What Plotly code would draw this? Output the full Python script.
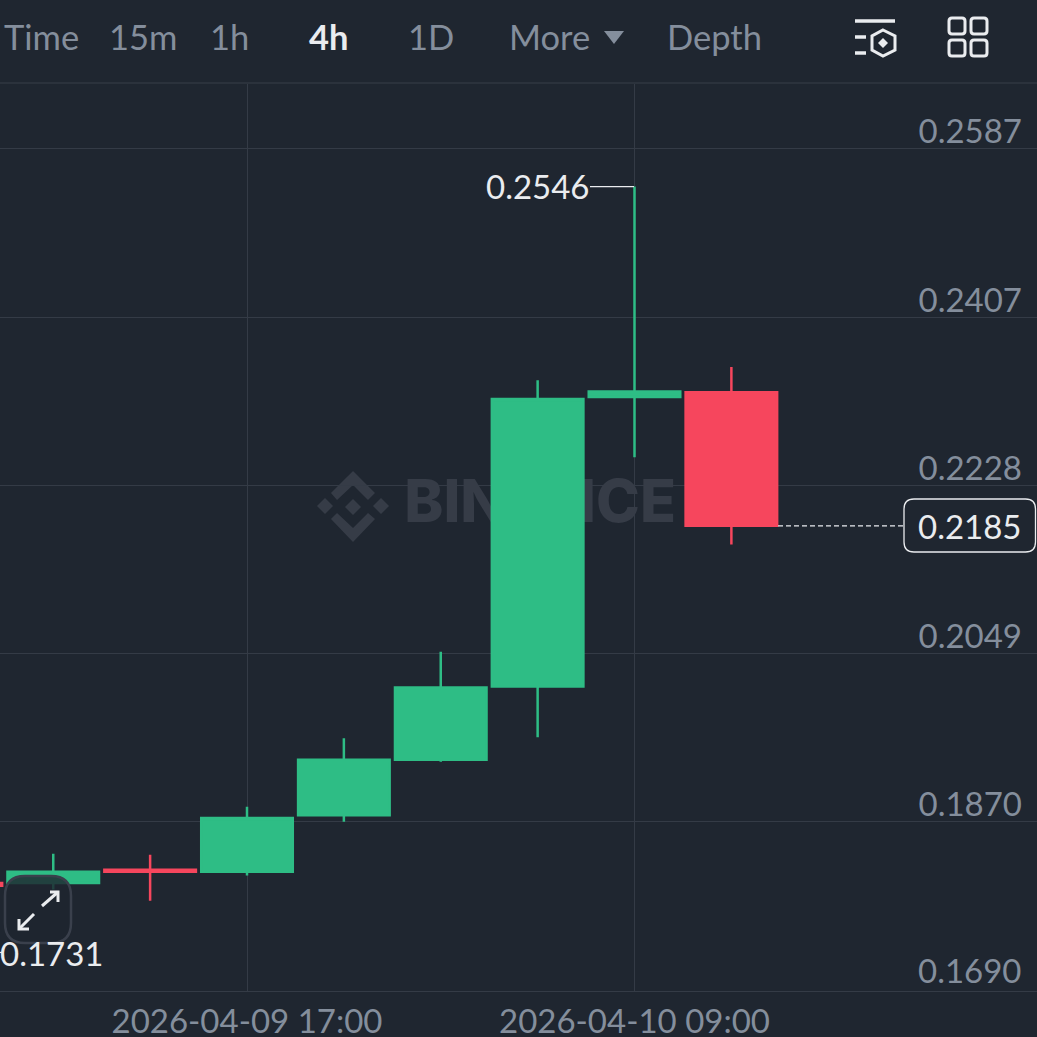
import plotly.graph_objects as go

times = ["2026-04-09 05:00", "2026-04-09 09:00", "2026-04-09 13:00", "2026-04-09 17:00", "2026-04-09 21:00",
         "2026-04-10 01:00", "2026-04-10 05:00", "2026-04-10 09:00", "2026-04-10 13:00"]
opens = [0.1805, 0.1805, 0.1819, 0.1817, 0.1877, 0.1936, 0.2014, 0.2322, 0.2327]
highs = [0.1825, 0.1836, 0.1835, 0.1886, 0.1959, 0.2051, 0.2340, 0.2546, 0.2354]
lows = [0.1731, 0.1798, 0.1786, 0.1813, 0.1870, 0.1934, 0.1960, 0.2258, 0.2165]
closes = [0.1802, 0.1817, 0.1817, 0.1874, 0.1936, 0.2013, 0.2320, 0.2328, 0.2185]
y_ticks = [0.2587, 0.2407, 0.2228, 0.2049, 0.1870]
y_tick_labels = ["0.2587", "0.2407", "0.2228", "0.2049", "0.1870"]
y_bottom_label = "0.1690"
x_ticks = ["2026-04-09 17:00", "2026-04-10 09:00"]
toolbar = ["Time", "15m", "1h", "4h", "1D", "More", "Depth"]

W, H = 1037, 1037
T, B = 84, 991
BG = "#1F2630"
GRID = "#343B46"
GREY = "#848E9C"
WHITE = "#EAECEF"
GREEN = "#2EBD85"
RED = "#F6465D"
FONT = "Lato"
y_min, y_max = 0.1690, 0.1690 + (B - T) / 9398


def px(x):
    return x / W


def py(y):
    return (B - y) / (B - T)


def poly(points, close=True):
    d = "M" + " L".join(f"{px(x):.5f},{py(y):.5f}" for x, y in points)
    return d + (" Z" if close else "")


def rrect(x0, y0, x1, y1, r):
    parts = [
        f"M{px(x0 + r):.5f},{py(y0):.5f}", f"L{px(x1 - r):.5f},{py(y0):.5f}",
        f"Q{px(x1):.5f},{py(y0):.5f} {px(x1):.5f},{py(y0 + r):.5f}",
        f"L{px(x1):.5f},{py(y1 - r):.5f}",
        f"Q{px(x1):.5f},{py(y1):.5f} {px(x1 - r):.5f},{py(y1):.5f}",
        f"L{px(x0 + r):.5f},{py(y1):.5f}",
        f"Q{px(x0):.5f},{py(y1):.5f} {px(x0):.5f},{py(y1 - r):.5f}",
        f"L{px(x0):.5f},{py(y0 + r):.5f}",
        f"Q{px(x0):.5f},{py(y0):.5f} {px(x0 + r):.5f},{py(y0):.5f}", "Z",
    ]
    return " ".join(parts)


def shape(path, fill=None, color=None, width=0, layer="above"):
    return dict(type="path", path=path, xref="paper", yref="paper", layer=layer,
                fillcolor=fill or "rgba(0,0,0,0)",
                line=dict(color=color or "rgba(0,0,0,0)", width=width))


shapes = []
# header divider
shapes.append(shape(poly([(0, 83), (W, 83)], False), color="#2B323C", width=2))
# watermark logo
LOGO = "#363C47"
for cx, cy in [(353, 507), (325, 506), (381, 506)]:
    shapes.append(shape(poly([(cx, cy - 8), (cx + 8, cy), (cx, cy + 8), (cx - 8, cy)]), fill=LOGO, layer="below"))
shapes.append(shape(poly([(353, 471), (375, 493), (368, 500), (353, 485), (337, 500), (331, 493)]), fill=LOGO, layer="below"))
shapes.append(shape(poly([(353, 542), (375, 519), (368, 513), (353, 528), (337, 513), (331, 519)]), fill=LOGO, layer="below"))
# More triangle
shapes.append(shape(poly([(604, 31), (624, 31), (614, 44)]), fill=GREY))
# toolbar icons
for a in [[(855, 21), (895, 21)], [(855, 37), (866, 37)], [(855, 53), (866, 53)]]:
    shapes.append(shape(poly(a, False), color=WHITE, width=3.5))
shapes.append(shape(poly([(883, 30), (895, 36), (895, 50), (883, 56), (872, 50), (872, 36)]), color=WHITE, width=3))
shapes.append(shape(poly([(883, 38), (888, 43), (883, 48), (878, 43)]), fill=WHITE))
for x0, x1 in [(949, 965), (971, 987)]:
    for y0, y1 in [(18, 34), (40, 56)]:
        shapes.append(shape(rrect(x0, y0, x1, y1, 3), color=WHITE, width=3))
# expand button
shapes.append(shape(rrect(5, 876, 71, 943, 20), fill="rgba(31,38,48,0.82)", color="#3A404C", width=2.5))
for a in [[(42, 906), (58, 892)], [(50, 892), (58, 892), (58, 902)],
          [(34, 914), (19, 929)], [(19, 919), (19, 929), (29, 929)]]:
    shapes.append(shape(poly(a, False), color=WHITE, width=3))
# high leader
shapes.append(dict(type="line", xref="paper", yref="y", x0=px(590), x1=px(634), y0=max(highs), y1=max(highs),
                   line=dict(color=WHITE, width=1.2)))
shapes.append(dict(type="line", xref="paper", yref="y", x0=0, x1=px(3), y0=min(lows), y1=min(lows),
                   line=dict(color=WHITE, width=1.2)))
# last price
shapes.append(dict(type="line", xref="paper", yref="y", x0=px(778), x1=px(903), y0=closes[-1], y1=closes[-1],
                   line=dict(color=WHITE, width=1.2, dash="5px,3px")))
shapes.append(shape(rrect(904, 499, 1035.5, 552, 10), fill=BG, color=WHITE, width=1.3))


def text(s, x, y, color=GREY, size=33, anchor="center", bold=False, yref="paper"):
    return dict(text=f"<b>{s}</b>" if bold else s, x=px(x), y=py(y) if yref == "paper" else y,
                xref="paper", yref=yref, xanchor=anchor, yanchor="middle", showarrow=False,
                font=dict(family=FONT, size=size, color=color))


toolbar_x = [41, 143, 229, 328, 431, 549, 714]
annotations = [text(s, x, 37, WHITE if s == "4h" else GREY, 34.5, bold=(s == "4h")) for s, x in zip(toolbar, toolbar_x)]
annotations += [
    text(f"{max(highs):.4f}", 592, 186, WHITE, anchor="right"),
    text(f"{min(lows):.4f}", 106, 953, WHITE, anchor="right"),
    text(f"{closes[-1]:.4f}", 970, 526, WHITE),
    text(y_bottom_label, 1024, 970, GREY, anchor="right"),
]

fig = go.Figure()
fig.add_trace(go.Scatter(x=["2026-04-10 05:06"], y=[0.2205], mode="text", text=["BINANCE"], textposition="middle center",
                         textfont=dict(family="Inter", size=59, color=LOGO, weight=800), hoverinfo="skip", showlegend=False))
fig.add_trace(go.Candlestick(x=times, open=opens, high=highs, low=lows, close=closes, yaxis="y2", showlegend=False,
                             whiskerwidth=0,
                             increasing=dict(line=dict(color=GREEN, width=2.5), fillcolor=GREEN),
                             decreasing=dict(line=dict(color=RED, width=2.5), fillcolor=RED)))
fig.update_layout(
    width=W, height=H, paper_bgcolor=BG, plot_bgcolor=BG,
    margin=dict(l=0, r=0, t=T, b=H - B, pad=0, autoexpand=False), showlegend=False, boxgap=0.055, boxgroupgap=0,
    xaxis=dict(type="date", range=["2026-04-09 06:48:05", "2026-04-11 01:37:09"], rangeslider=dict(visible=False),
               tickvals=x_ticks, tickformat="%Y-%m-%d %H:%M", showgrid=True, gridcolor=GRID, gridwidth=1.3,
               showline=True, linecolor=GRID, linewidth=1.3, zeroline=False, ticks="", ticklabelstandoff=1,
               tickfont=dict(family=FONT, size=33, color=GREY)),
    yaxis=dict(range=[y_min, y_max], side="right", tickvals=y_ticks, ticktext=y_tick_labels, ticklabelposition="inside",
               ticklabelstandoff=12, ticklabelshift=-17, showgrid=True, gridcolor=GRID, gridwidth=1.3, zeroline=False,
               showline=False, ticks="", tickfont=dict(family=FONT, size=33, color=GREY)),
    yaxis2=dict(range=[y_min, y_max], overlaying="y", side="right", visible=False),
    shapes=shapes, annotations=annotations,
)
fig.write_html("out.html", config=dict(displayModeBar=False),
               post_script="document.body.style.margin='0';document.documentElement.style.overflow='hidden';")
